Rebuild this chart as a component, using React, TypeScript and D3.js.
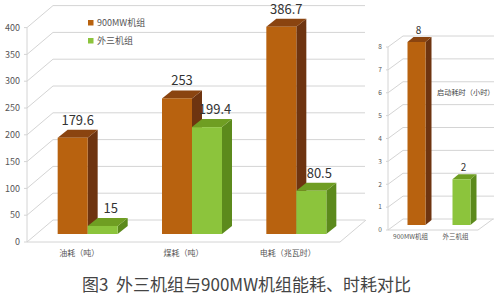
import React from "react";
import * as d3 from "d3";

const categories = ["油耗（吨）", "煤耗（吨）", "电耗（兆瓦时）"];
const series900 = [179.6, 253, 386.7];
const seriesWai = [15, 199.4, 80.5];
const seriesNames = ["900MW机组", "外三机组"];
const leftTicks = [0, 50, 100, 150, 200, 250, 300, 350, 400];

const rightCats = ["900MW机组", "外三机组"];
const rightValues = [8, 2];
const rightTicks = [0, 1, 2, 3, 4, 5, 6, 7, 8];
const rightTitle = "启动耗时（小时）";
const chartTitle = "图3  外三机组与900MW机组能耗、时耗对比";

const BROWN = { front: "#b8620f", side: "#6e3410", top: "#8a4410" };
const GREEN = { front: "#8cc43c", side: "#5c8a1c", top: "#6f9e22" };
const GRID = "#d4d4d4";
const FONT = "'Noto Sans CJK SC', 'Noto Sans', sans-serif";

function Bar3D({ x0, x1, yTop, yBase, dx, dy, c }: any) {
  return (
    <g>
      <polygon
        points={`${x1},${yBase} ${x1 + dx},${yBase + dy} ${x1 + dx},${yTop + dy} ${x1},${yTop}`}
        fill={c.side}
      />
      <polygon
        points={`${x0},${yTop} ${x0 + dx},${yTop + dy} ${x1 + dx},${yTop + dy} ${x1},${yTop}`}
        fill={c.top}
      />
      <rect x={x0} y={yTop} width={x1 - x0} height={yBase - yTop} fill={c.front} />
    </g>
  );
}

export default function App() {
  // Left chart geometry
  const L = { x0: 27, x1: 340, DX: 26, DY: -22, backRight: 365 };
  const yL = d3.scaleLinear().domain([0, 400]).range([242, 27.6]);
  const xL = d3.scaleBand().domain(categories).range([L.x0, L.x1]);
  const OX = 8.5, OY = -8, BW = 30, BDX = 10, BDY = -8;

  // Right chart geometry
  const R = { x0: 388, x1: 478, DX: 15, DY: -11, backRight: 494 };
  const yR = d3.scaleLinear().domain([0, 8]).range([230, 47]);
  const xR = d3.scaleBand().domain(rightCats).range([R.x0, R.x1]);
  const ROX = 6, ROY = -5, RBW = 18, RBDX = 6, RBDY = -5;
  const rColors = [BROWN, GREEN];

  return (
    <svg
      width={500}
      height={295}
      style={{ position: "absolute", left: 0, top: 0, background: "#fff" }}
      fontFamily={FONT}
    >
      <rect width={500} height={295} fill="#fff" />
      {/* LEFT CHART grid */}
      {leftTicks.map((t) => {
        const yf = yL(t);
        const yb = yf + L.DY;
        return (
          <g key={t}>
            <line x1={L.x0} y1={yf} x2={L.x0 + L.DX} y2={yb} stroke={GRID} strokeWidth={1} />
            <line x1={L.x0 + L.DX} y1={yb} x2={L.backRight} y2={yb} stroke={GRID} strokeWidth={1} />
            <line x1={L.x0 - 3} y1={yf} x2={L.x0} y2={yf} stroke={GRID} />
            <text x={20} y={yf} dy="0.35em" textAnchor="end" fontSize={9} fill="#555">
              {t}
            </text>
          </g>
        );
      })}
      <line x1={L.x0} y1={yL(0)} x2={L.x0} y2={yL(400)} stroke={GRID} />
      <line x1={L.x0} y1={yL(0)} x2={L.x1} y2={yL(0)} stroke={GRID} />
      <line x1={L.x1} y1={yL(0)} x2={L.x1 + L.DX} y2={yL(0) + L.DY} stroke={GRID} />

      {/* LEFT bars */}
      {categories.map((c, i) => {
        const cx = (xL(c) as number) + xL.bandwidth() / 2 + OX;
        const base = yL(0) + OY;
        const topB = yL(series900[i]) + OY;
        const topG = yL(seriesWai[i]) + OY;
        return (
          <g key={c}>
            <Bar3D x0={cx - BW} x1={cx} yTop={topB} yBase={base} dx={BDX} dy={BDY} c={BROWN} />
            <Bar3D x0={cx} x1={cx + BW} yTop={topG} yBase={base} dx={BDX} dy={BDY} c={GREEN} />
          </g>
        );
      })}
      {categories.map((c, i) => {
        const cx = (xL(c) as number) + xL.bandwidth() / 2 + OX;
        const topB = yL(series900[i]) + OY;
        const topG = yL(seriesWai[i]) + OY;
        return (
          <g key={c + "l"} fontSize={13} fill="#333" textAnchor="middle">
            <text x={cx - BW / 2 + 5} y={topB - 13}>{series900[i]}</text>
            <text x={cx + BW / 2 + 8} y={topG - 13}>{seriesWai[i]}</text>
            <text x={(xL(c) as number) + xL.bandwidth() / 2} y={256} fontSize={8} fill="#555">
              {c}
            </text>
          </g>
        );
      })}

      {/* Legend */}
      {seriesNames.map((s, i) => (
        <g key={s} transform={`translate(88, ${20 + i * 18})`}>
          <rect x={0} y={0} width={5.5} height={5.5} fill={i === 0 ? BROWN.front : GREEN.front} />
          <text x={9} y={3} dy="0.35em" fontSize={9} fill="#555">
            {s}
          </text>
        </g>
      ))}

      {/* RIGHT CHART grid */}
      {rightTicks.map((t) => {
        const yf = yR(t);
        const yb = yf + R.DY;
        return (
          <g key={"r" + t}>
            <line x1={R.x0} y1={yf} x2={R.x0 + R.DX} y2={yb} stroke={GRID} />
            <line x1={R.x0 + R.DX} y1={yb} x2={R.backRight} y2={yb} stroke={GRID} />
            <line x1={R.x0 - 2} y1={yf} x2={R.x0} y2={yf} stroke={GRID} />
            <text x={380} y={yf} dy="0.35em" textAnchor="middle" fontSize={6.5} fill="#555">
              {t}
            </text>
          </g>
        );
      })}
      <line x1={R.x0} y1={yR(0)} x2={R.x0} y2={yR(8)} stroke={GRID} />
      <line x1={R.x0} y1={yR(0)} x2={R.x1} y2={yR(0)} stroke={GRID} />
      <line x1={R.x1} y1={yR(0)} x2={R.x1 + R.DX} y2={yR(0) + R.DY} stroke={GRID} />
      {rightCats.map((c, i) => {
        const cx = (xR(c) as number) + xR.bandwidth() / 2 + ROX;
        const base = yR(0) + ROY;
        const top = yR(rightValues[i]) + ROY;
        return (
          <g key={c}>
            <Bar3D x0={cx - RBW / 2} x1={cx + RBW / 2} yTop={top} yBase={base} dx={RBDX} dy={RBDY} c={rColors[i]} />
            <text x={cx + 2} y={top - 8} textAnchor="middle" fontSize={10} fill="#333">
              {rightValues[i]}
            </text>
            <text
              x={(xR(c) as number) + xR.bandwidth() / 2}
              y={237}
              dy="0.35em"
              textAnchor="middle"
              fontSize={6.5}
              fill="#555"
            >
              {c}
            </text>
          </g>
        );
      })}
      <text x={437} y={92} dy="0.35em" fontSize={7.2} fill="#444">
        {rightTitle}
      </text>

      {/* Title */}
      <text x={82} y={285} dy="0.35em" fontSize={17} fill="#444" style={{ whiteSpace: "pre" }}>
        {chartTitle}
      </text>
    </svg>
  );
}
